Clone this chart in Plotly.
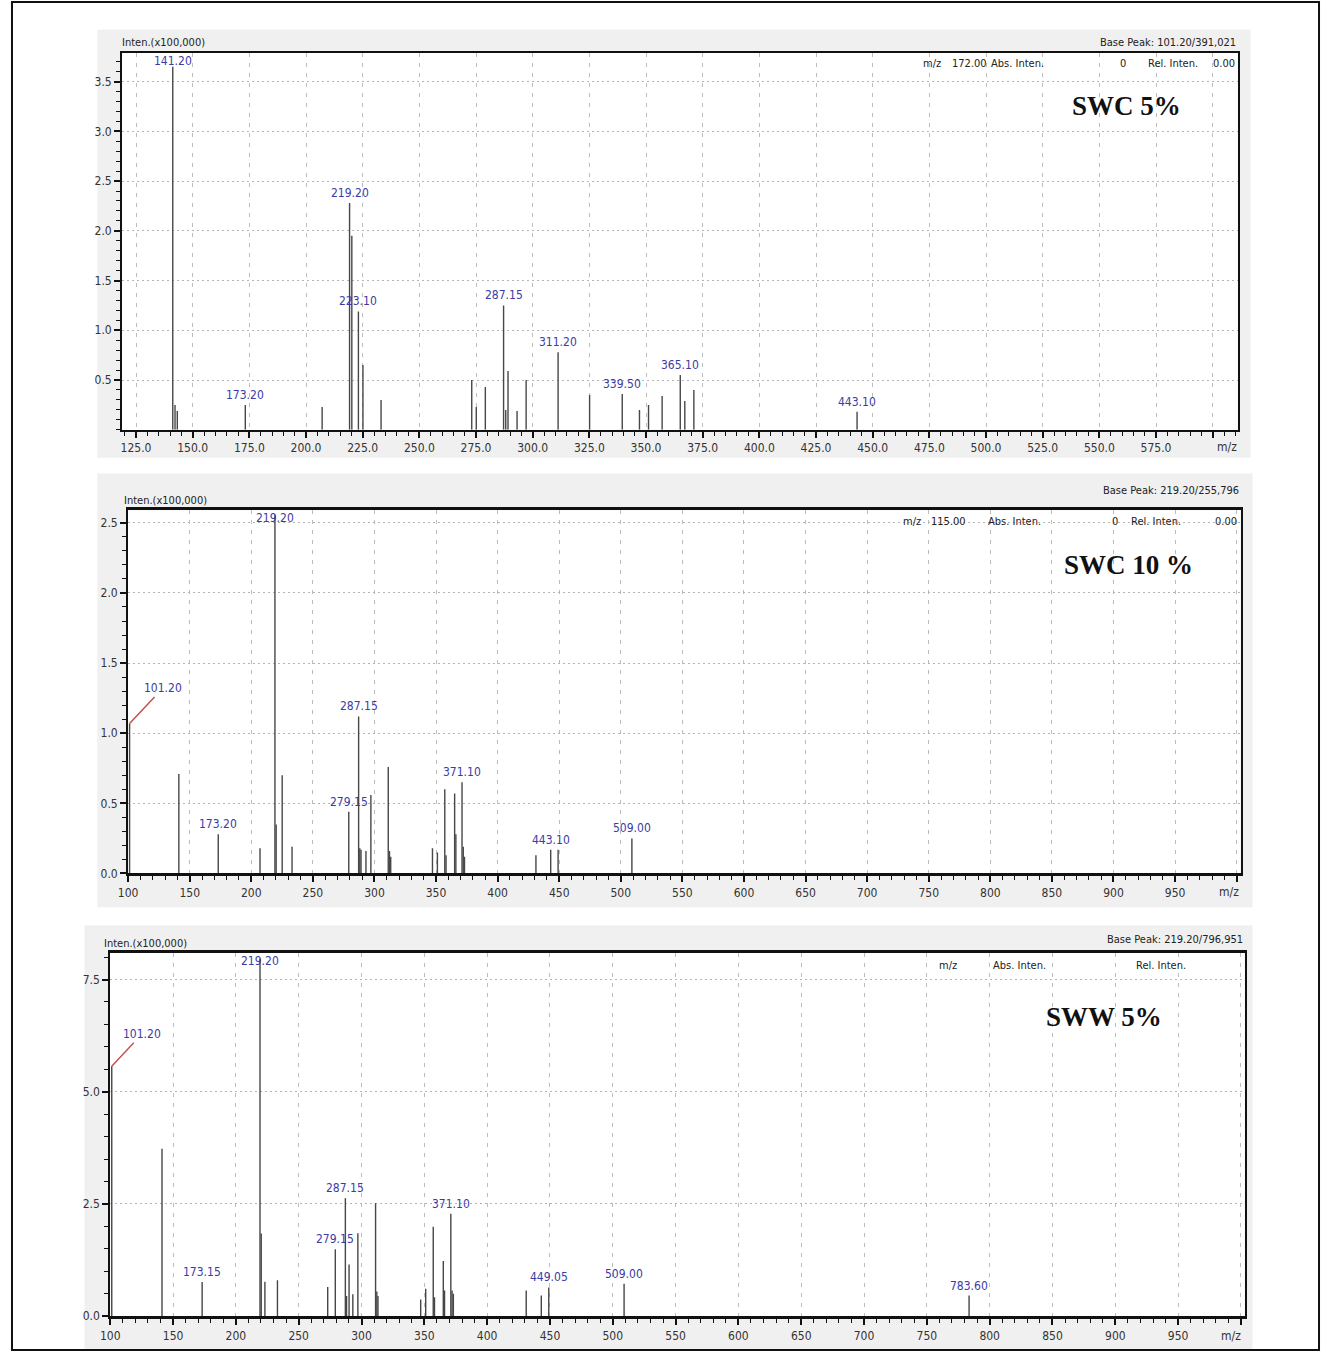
import plotly.graph_objects as go

W, H = 1322, 1360

# ---------------- data ----------------
# Panel 1: SWC 5%
p1_mz = [141.2, 142.2, 143.2, 173.2, 207.1, 219.2, 220.2, 223.1, 225.1, 233.1,
         273.1, 275.1, 279.1, 287.15, 288.1, 289.1, 293.1, 297.1, 311.2, 325.1,
         339.5, 347.1, 351.1, 357.1, 365.1, 367.1, 371.1, 443.1]
p1_int = [3.65, 0.25, 0.19, 0.25, 0.23, 2.28, 1.95, 1.19, 0.65, 0.30,
          0.50, 0.23, 0.43, 1.25, 0.20, 0.59, 0.19, 0.50, 0.78, 0.35,
          0.36, 0.20, 0.25, 0.34, 0.55, 0.29, 0.40, 0.18]
p1_lab_mz = [141.2, 173.2, 219.2, 223.1, 287.15, 311.2, 339.5, 365.1, 443.1]
p1_lab_txt = ["141.20", "173.20", "219.20", "223.10", "287.15", "311.20", "339.50", "365.10", "443.10"]

# Panel 2: SWC 10 %
p2_mz = [101.2, 141.2, 173.2, 207.1, 219.2, 220.2, 225.1, 233.1, 279.15, 287.15,
         288.1, 289.1, 293.1, 297.1, 311.2, 312.2, 313.2, 347.1, 351.1, 357.1,
         358.1, 365.1, 366.1, 371.1, 372.1, 373.1, 431.1, 443.1, 449.1, 509.0]
p2_int = [1.07, 0.71, 0.28, 0.18, 2.56, 0.35, 0.70, 0.19, 0.44, 1.12,
          0.18, 0.17, 0.16, 0.56, 0.76, 0.16, 0.12, 0.18, 0.15, 0.60,
          0.13, 0.57, 0.28, 0.65, 0.19, 0.12, 0.13, 0.17, 0.17, 0.25]
p2_lab_mz = [101.2, 173.2, 219.2, 279.15, 287.15, 371.1, 443.1, 509.0]
p2_lab_txt = ["101.20", "173.20", "219.20", "279.15", "287.15", "371.10", "443.10", "509.00"]

# Panel 3: SWW 5%
p3_mz = [101.2, 141.2, 173.15, 219.2, 220.2, 223.1, 233.1, 273.1, 279.15, 287.15,
         288.1, 290.1, 293.1, 297.1, 311.2, 312.2, 313.1, 347.1, 351.1, 357.1,
         358.1, 365.1, 366.1, 371.1, 372.1, 373.1, 431.1, 443.1, 449.05, 509.0, 783.6]
p3_int = [5.57, 3.73, 0.76, 7.97, 1.84, 0.77, 0.80, 0.65, 1.49, 2.63,
          0.45, 1.15, 0.49, 1.85, 2.52, 0.55, 0.45, 0.37, 0.61, 1.99,
          0.42, 1.23, 0.57, 2.28, 0.57, 0.50, 0.57, 0.46, 0.64, 0.72, 0.46]
p3_lab_mz = [101.2, 173.15, 219.2, 279.15, 287.15, 371.1, 449.05, 509.0, 783.6]
p3_lab_txt = ["101.20", "173.15", "219.20", "279.15", "287.15", "371.10", "449.05", "509.00", "783.60"]

p1_xticks = [125, 150, 175, 200, 225, 250, 275, 300, 325, 350, 375, 400, 425, 450, 475, 500, 525, 550, 575, 600]
p1_xtext = ["125.0", "150.0", "175.0", "200.0", "225.0", "250.0", "275.0", "300.0", "325.0", "350.0",
            "375.0", "400.0", "425.0", "450.0", "475.0", "500.0", "525.0", "550.0", "575.0", ""]
p23_xticks = [100, 150, 200, 250, 300, 350, 400, 450, 500, 550, 600, 650, 700, 750, 800, 850, 900, 950, 1000]
p23_xtext = ["100", "150", "200", "250", "300", "350", "400", "450", "500", "550",
             "600", "650", "700", "750", "800", "850", "900", "950", ""]
p1_yticks = [0.5, 1.0, 1.5, 2.0, 2.5, 3.0, 3.5]
p2_yticks = [0.0, 0.5, 1.0, 1.5, 2.0, 2.5]
p3_yticks = [0.0, 2.5, 5.0, 7.5]

titles = ["SWC 5%", "SWC 10 %", "SWW 5%"]
base_peaks = ["Base Peak: 101.20/391,021", "Base Peak: 219.20/255,796", "Base Peak: 219.20/796,951"]
intens_label = "Inten.(x100,000)"
header_rows = [
    ["m/z", "172.00", "Abs. Inten.", "0", "Rel. Inten.", "0.00"],
    ["m/z", "115.00", "Abs. Inten.", "0", "Rel. Inten.", "0.00"],
    ["m/z", "Abs. Inten.", "Rel. Inten."],
]

# ---------------- layout geometry (pixels) ----------------
NARROW = "Liberation Sans Narrow, Arial Narrow, DejaVu Sans Condensed, sans-serif"
SERIF = "Liberation Serif, Times New Roman, serif"
LBL_BLUE = "#3b3ba6"

def fx(px):
    return px / W

def fy(py):
    return 1 - py / H

panels = [
    dict(mz=p1_mz, it=p1_int, lmz=p1_lab_mz, ltx=p1_lab_txt,
         xd=(113, 1237), yd=(432, 53), xr=(118.87, 611.0), yr=(0, 3.79),
         xt=p1_xticks, xtt=p1_xtext, yt=p1_yticks, yfmt="{:.1f}",
         xminor=5, x0=125, yminor=0.1, axw=2,
         bg=(88, 30, 1250, 460),
         basepk=(1237, 43), inten=(111, 43), mzlab=(1226, 449), title=(1125, 107),
         hdr_y=64, hdr_x=[940, 947, 986, 1127, 1145, 1236],
         hdr_anchor=["right", "left", "left", "right", "left", "right"]),
    dict(mz=p2_mz, it=p2_int, lmz=p2_lab_mz, ltx=p2_lab_txt,
         xd=(119, 1240), yd=(878, 513), xr=(100, 1003.2), yr=(0, 2.589),
         xt=p23_xticks, xtt=p23_xtext, yt=p2_yticks, yfmt="{:.1f}",
         xminor=10, x0=100, yminor=0.1, axw=3,
         bg=(88, 476, 1252, 912),
         basepk=(1240, 493), inten=(113, 503), mzlab=(1228, 897), title=(1127, 568),
         hdr_y=524, hdr_x=[920, 926, 983, 1118, 1128, 1238],
         hdr_anchor=["right", "left", "left", "right", "left", "right"],
         arrow=(33, -35)),
    dict(mz=p3_mz, it=p3_int, lmz=p3_lab_mz, ltx=p3_lab_txt,
         xd=(101, 1244), yd=(1323, 958), xr=(100, 1002.9), yr=(0, 8.09),
         xt=p23_xticks, xtt=p23_xtext, yt=p3_yticks, yfmt="{:.1f}",
         xminor=10, x0=100, yminor=0.5, axw=3,
         bg=(75, 930, 1252, 1357),
         basepk=(1244, 944), inten=(93, 948), mzlab=(1230, 1343), title=(1102, 1022),
         hdr_y=970, hdr_x=[945, 1017, 1160], hdr_anchor=["center"] * 3,
         arrow=(30, -32)),
]

fig = go.Figure()
shapes = []
annotations = []

for i, p in enumerate(panels, start=1):
    xa = "x" if i == 1 else f"x{i}"
    ya = "y" if i == 1 else f"y{i}"
    xs, ys = [], []
    for m, v in zip(p["mz"], p["it"]):
        xs += [m, m, None]
        ys += [0, v, None]
    fig.add_trace(go.Scatter(x=xs, y=ys, mode="lines", xaxis=xa, yaxis=ya,
                             line=dict(color="#474747", width=1.4),
                             hoverinfo="skip", showlegend=False))

    axis_common = dict(showline=True, linecolor="#111", mirror=True, zeroline=False,
                       ticks="outside", tickcolor="#111", tickwidth=1.5, ticklen=6,
                       tickfont=dict(family=NARROW, size=12, color="#333"), fixedrange=True)
    xkey = "xaxis" if i == 1 else f"xaxis{i}"
    ykey = "yaxis" if i == 1 else f"yaxis{i}"
    fig.layout[xkey] = dict(axis_common,
                            domain=[fx(p["xd"][0]), fx(p["xd"][1])], range=list(p["xr"]),
                            anchor=ya, tickmode="array", tickvals=p["xt"], ticktext=p["xtt"],
                            linewidth=p["axw"],
                            showgrid=True, gridcolor="#bdbdbd", gridwidth=1, griddash="4px,6px",
                            minor=dict(dtick=p["xminor"], tick0=p["x0"], ticklen=4, tickwidth=1.2,
                                       tickcolor="#111", ticks="outside", showgrid=False))
    fig.layout[ykey] = dict(axis_common,
                            domain=[fy(p["yd"][0]), fy(p["yd"][1])], range=list(p["yr"]),
                            anchor=xa, tickmode="array", tickvals=p["yt"],
                            ticktext=[p["yfmt"].format(v) for v in p["yt"]],
                            linewidth=2,
                            showgrid=True, gridcolor="#b5b5b5", gridwidth=1, griddash="2px,3px",
                            minor=dict(dtick=p["yminor"], tick0=0, ticklen=4, tickwidth=1.2,
                                       tickcolor="#111", ticks="outside", showgrid=False))

    # background panel + white plot area
    bx0, by0, bx1, by1 = p["bg"]
    shapes.append(dict(type="rect", xref="paper", yref="paper", layer="below",
                       x0=fx(bx0), x1=fx(bx1), y0=fy(by1), y1=fy(by0),
                       fillcolor="#f0f0f0", line=dict(width=0)))
    shapes.append(dict(type="rect", xref="paper", yref="paper", layer="below",
                       x0=fx(p["xd"][0]), x1=fx(p["xd"][1]), y0=fy(p["yd"][0]), y1=fy(p["yd"][1]),
                       fillcolor="white", line=dict(width=0)))

    # peak labels
    ppu = (p["yd"][0] - p["yd"][1]) / (p["yr"][1] - p["yr"][0])
    for m, t in zip(p["lmz"], p["ltx"]):
        h = p["it"][p["mz"].index(m)]
        lf = dict(family=NARROW, size=12, color=LBL_BLUE)
        if t == "101.20" and "arrow" in p:
            ax, ay = p["arrow"]
            annotations.append(dict(x=m, y=h, xref=xa, yref=ya, text=t, showarrow=True,
                                    arrowhead=0, arrowwidth=1.5, arrowcolor="#c85050",
                                    ax=ax, ay=ay, standoff=0, font=lf))
            continue
        if h + 16 / ppu > p["yr"][1]:
            annotations.append(dict(x=m, y=p["yr"][1], xref=xa, yref=ya, text=t, showarrow=False,
                                    yanchor="top", xanchor="center", yshift=1, font=lf))
        else:
            annotations.append(dict(x=m, y=h, xref=xa, yref=ya, text=t, showarrow=False,
                                    yanchor="bottom", xanchor="center", yshift=1, font=lf))

    # header texts
    hf = dict(family=NARROW, size=11, color="#222")
    annotations.append(dict(x=fx(p["basepk"][0]), y=fy(p["basepk"][1]), xref="paper", yref="paper",
                            text=base_peaks[i - 1], showarrow=False, xanchor="right", yanchor="middle",
                            font=hf))
    annotations.append(dict(x=fx(p["inten"][0]), y=fy(p["inten"][1]), xref="paper", yref="paper",
                            text=intens_label, showarrow=False, xanchor="left", yanchor="middle",
                            font=hf))
    annotations.append(dict(x=fx(p["mzlab"][0]), y=fy(p["mzlab"][1]), xref="paper", yref="paper",
                            text="m/z", showarrow=False, xanchor="center", yanchor="middle",
                            font=dict(family=NARROW, size=12, color="#333")))
    for txt, hx, anc in zip(header_rows[i - 1], p["hdr_x"], p["hdr_anchor"]):
        annotations.append(dict(x=fx(hx), y=fy(p["hdr_y"]), xref="paper", yref="paper",
                                text=txt, showarrow=False, xanchor=anc, yanchor="middle",
                                font=hf))
    annotations.append(dict(x=fx(p["title"][0]), y=fy(p["title"][1]), xref="paper", yref="paper",
                            text="<b>" + titles[i - 1] + "</b>", showarrow=False,
                            xanchor="center", yanchor="middle",
                            font=dict(family=SERIF, size=27, color="#111")))

# outer frame
shapes.append(dict(type="rect", xref="paper", yref="paper", layer="above",
                   x0=fx(2), x1=fx(1319), y0=fy(1357), y1=fy(2),
                   line=dict(color="#111", width=2), fillcolor="rgba(0,0,0,0)"))

fig.update_layout(width=W, height=H, margin=dict(l=0, r=0, t=0, b=0),
                  paper_bgcolor="white", plot_bgcolor="rgba(0,0,0,0)",
                  shapes=shapes, annotations=annotations, showlegend=False)

fig.write_html("out.html", config={"displayModeBar": False},
               post_script="document.body.style.margin='0';document.body.style.overflow='hidden';")
